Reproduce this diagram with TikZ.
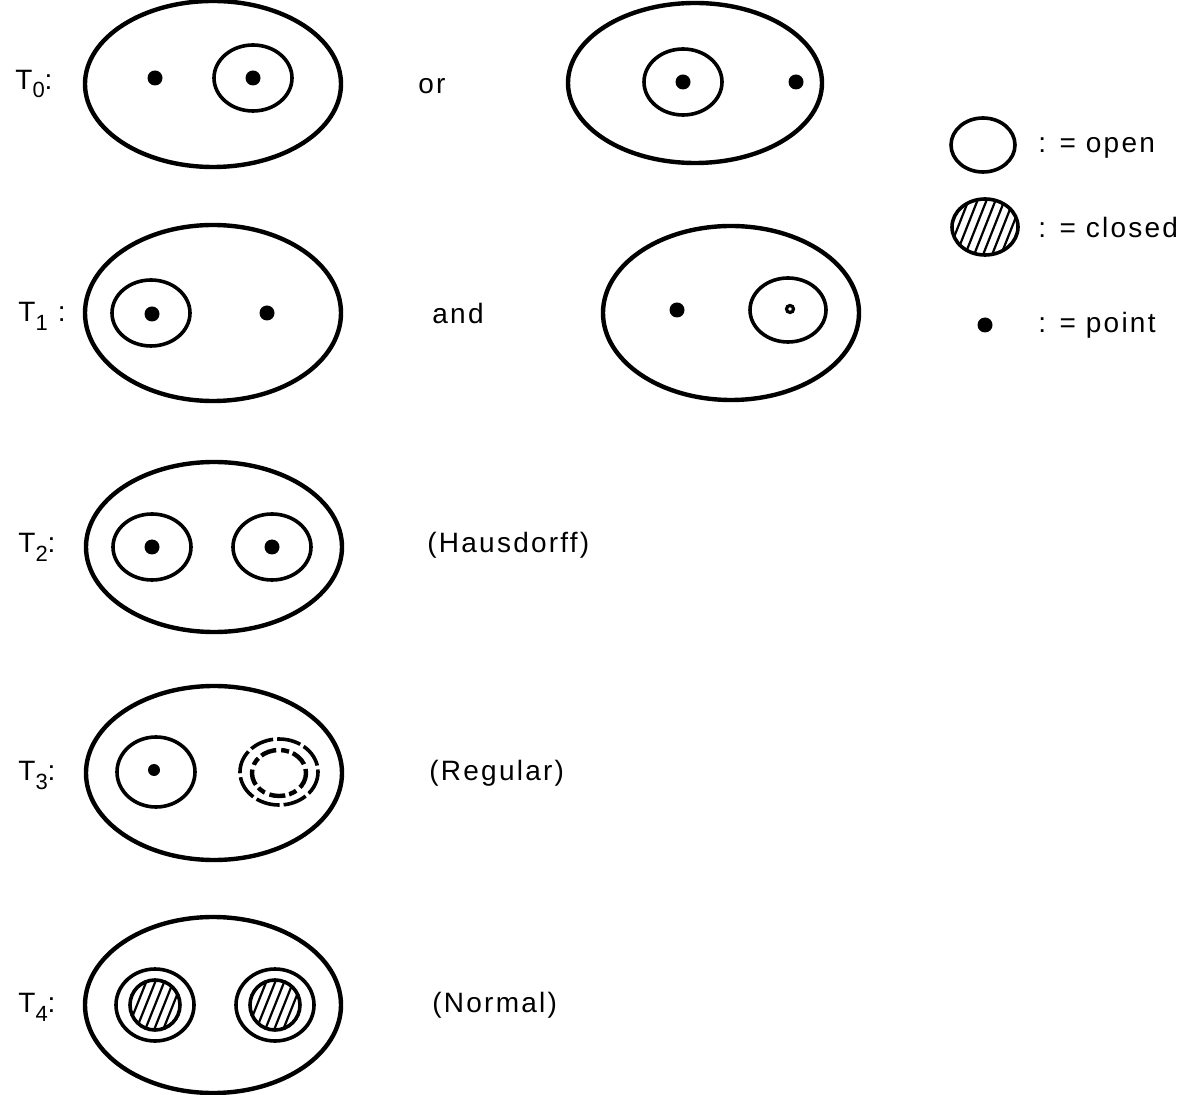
\documentclass[tikz,border=0pt]{standalone}
\usepackage{fontspec}
\setmainfont{Liberation Sans}[LetterSpace=8]
\begin{document}
\begin{tikzpicture}[x=0.5pt,y=-0.5pt,
  outer/.style={line width=2.2pt},
  inner/.style={line width=1.8pt},
  hatchln/.style={line width=1.1pt},
  lbl/.style={font=\fontsize{14}{16}\selectfont, inner sep=0pt, anchor=west},
  dotpt/.style={fill=black}]
\useasboundingbox (0,0) rectangle (1182,1095);
\newcommand\mysub[1]{\raisebox{-0.32em}{\fontsize{11}{11}\selectfont #1}}
% ---------- T0 ----------
\node[lbl] (t0) at (15,84) {T\mysub{0}:};
\draw[outer] (213,84) ellipse[x radius=128, y radius=83];
\fill[dotpt] (155,78) circle[radius=7.5];
\draw[inner] (253,78) ellipse[x radius=39, y radius=33];
\fill[dotpt] (253,78) circle[radius=7.5];
\node[lbl] (or) at (418,86) {or};
\draw[outer] (695,83) ellipse[x radius=127, y radius=80];
\draw[inner] (683,82) ellipse[x radius=39, y radius=33];
\fill[dotpt] (683,82) circle[radius=7.5];
\fill[dotpt] (796,82) circle[radius=7.5];
% ---------- T1 ----------
\node[lbl] (t1) at (18,316) {T\mysub{1} :};
\draw[outer] (213,313) ellipse[x radius=128, y radius=88];
\draw[inner] (151,313) ellipse[x radius=39, y radius=33];
\fill[dotpt] (152,314) circle[radius=7.5];
\fill[dotpt] (267,313) circle[radius=7.5];
\node[lbl] (and) at (432,313) {and};
\draw[outer] (731,313) ellipse[x radius=128, y radius=87];
\fill[dotpt] (677,310) circle[radius=7.5];
\draw[inner] (788,310) ellipse[x radius=38, y radius=32];
\draw[line width=1.6pt] (790,309) circle[radius=3.5];
% ---------- T2 ----------
\node[lbl] (t2) at (18,547) {T\mysub{2}:};
\draw[outer] (214,547) ellipse[x radius=128, y radius=85];
\draw[inner] (152,547) ellipse[x radius=39, y radius=33];
\fill[dotpt] (152,547) circle[radius=7.5];
\draw[inner] (272,547) ellipse[x radius=39, y radius=33];
\fill[dotpt] (272,547) circle[radius=7.5];
\node[lbl] (haus) at (427,545) {(Hausdorff)};
% ---------- T3 ----------
\node[lbl] (t3) at (18,775) {T\mysub{3}:};
\draw[outer] (214,773) ellipse[x radius=128, y radius=87];
\draw[inner] (156,772) ellipse[x radius=39, y radius=35];
\fill[dotpt] (154,770) circle[radius=6];
\draw[inner, dash pattern=on 12pt off 2pt] (279,772) ellipse[x radius=39, y radius=33];
\draw[line width=2.2pt, dash pattern=on 8pt off 2.5pt on 4pt off 2pt] (279,773) ellipse[x radius=27, y radius=23];
\node[lbl] (reg) at (429,773) {(Regular)};
% ---------- T4 ----------
\node[lbl] (t4) at (18,1007) {T\mysub{4}:};
\draw[outer] (213,1005) ellipse[x radius=128, y radius=88];
\foreach \cx in {155,275}{
  \draw[inner] (\cx,1005) ellipse[x radius=39, y radius=36];
  \begin{scope}
    \clip (\cx,1005) circle[radius=25];
    \foreach \k in {-5,...,5}
      \draw[hatchln] ({\cx+\k*9-14},1040) -- ({\cx+\k*9+14},970);
  \end{scope}
  \draw[inner] (\cx,1005) circle[radius=25];
}
\node[lbl] (norm) at (432,1005) {(Normal)};
% ---------- legend ----------
\draw[inner] (983,145) ellipse[x radius=32, y radius=27];
\node[lbl] (lopen) at (1038,148) {: = open};
\begin{scope}
  \clip (985,227) ellipse[x radius=33, y radius=28];
  \foreach \k in {-6,...,6}
    \draw[hatchln] ({985+\k*9-15},265) -- ({985+\k*9+15},189);
\end{scope}
\draw[inner] (985,227) ellipse[x radius=33, y radius=28];
\node[lbl] (lclosed) at (1038,227) {: = closed};
\fill[dotpt] (985,325) circle[radius=7.5];
\node[lbl] (lpoint) at (1038,325) {: = point};
\end{tikzpicture}
\end{document}
